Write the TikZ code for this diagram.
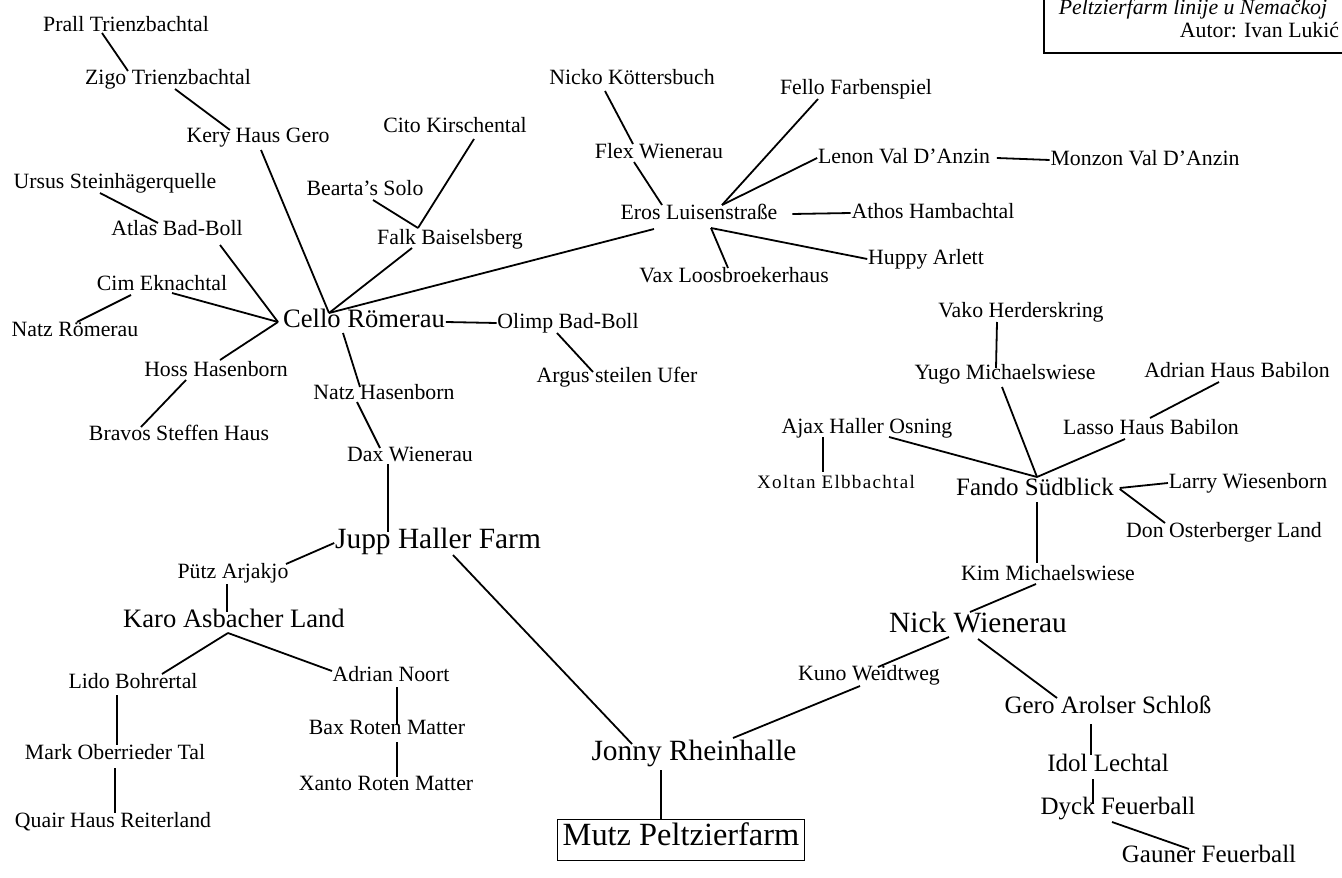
\documentclass[tikz,border=0pt]{standalone}
\usepackage{fontspec}
\setmainfont{Liberation Serif}
\newfontfamily\spacedfont[LetterSpace=7]{Liberation Serif}

\begin{document}
\begin{tikzpicture}[
					x = 0.5pt, y = -0.5pt,
					line width = 0.9pt,
					every node/.style = {inner sep = 0pt, text height = 1.5ex, text depth = .25ex, font = \fontsize{10.9}{12}\selectfont},
					mid/.style = {font = \fontsize{12.5}{14}\selectfont},
					big/.style = {font = \fontsize{13.3}{15}\selectfont},
					bigger/.style = {font = \fontsize{14.7}{17}\selectfont},
					root/.style = {font = \fontsize{16.2}{18}\selectfont, draw, line width = 0.6pt, inner xsep = 2.5pt, minimum height = 20.5pt},
					spaced/.style = {font = \spacedfont\fontsize{9.5}{11}\selectfont}]

					\useasboundingbox (0,0) rectangle (1342,877);
					\clip (0,0) rectangle (1342,877);

					\draw[line width = 0.6pt] (1044,-20) rectangle (1400,53);
					\node[anchor = base east, font = \fontsize{10.9}{12}\selectfont\itshape] (naslov) at (1328,15) {Peltzierfarm linije u Nemačkoj};
					\node[anchor = base east] (autor) at (1340,38) {Autor: Ivan Lukić};

					\node (prall) at (126,26) {Prall Trienzbachtal};
					\node (zigo) at (168,79) {Zigo Trienzbachtal};
					\node (kery) at (258,137) {Kery Haus Gero};
					\node (ursus) at (115,183) {Ursus Steinhägerquelle};
					\node (atlas) at (177,230) {Atlas Bad-Boll};
					\node (bearta) at (365,190) {Bearta's Solo};
					\node (cito) at (455,127) {Cito Kirschental};
					\node (falk) at (450,239) {Falk Baiselsberg};
					\node (cim) at (162,285) {Cim Eknachtal};
					\node (natzr) at (75,331) {Natz Römerau};
					\node[big] (cello) at (364,322) {Cello Römerau};
					\node (hoss) at (216,371) {Hoss Hasenborn};
					\node (bravos) at (179,435) {Bravos Steffen Haus};
					\node (natzh) at (384,394) {Natz Hasenborn};
					\node (dax) at (410,456) {Dax Wienerau};
					\node (olimp) at (568,323) {Olimp Bad-Boll};
					\node (argus) at (617,377) {Argus steilen Ufer};

					\node (nicko) at (632,79) {Nicko Köttersbuch};
					\node (flex) at (659,153) {Flex Wienerau};
					\node (eros) at (699,214) {Eros Luisenstraße};
					\node (fello) at (856,89) {Fello Farbenspiel};
					\node (lenon) at (904,158) {Lenon Val D'Anzin};
					\node (monzon) at (1145,160) {Monzon Val D'Anzin};
					\node (athos) at (933,213) {Athos Hambachtal};
					\node (huppy) at (926,259) {Huppy Arlett};
					\node (vax) at (734,277) {Vax Loosbroekerhaus};

					\node[bigger] (jupp) at (438,543) {Jupp Haller Farm};
					\node (putz) at (233,573) {Pütz Arjakjo};
					\node[big] (karo) at (234,622) {Karo Asbacher Land};
					\node (lido) at (133,683) {Lido Bohrertal};
					\node (mark) at (115,754) {Mark Oberrieder Tal};
					\node (quair) at (113,822) {Quair Haus Reiterland};
					\node (noort) at (391,676) {Adrian Noort};
					\node (bax) at (387,729) {Bax Roten Matter};
					\node (xanto) at (386,785) {Xanto Roten Matter};

					\node (vako) at (1021,312) {Vako Herderskring};
					\node (yugo) at (1005,374) {Yugo Michaelswiese};
					\node (adrianhb) at (1237,372) {Adrian Haus Babilon};
					\node (lasso) at (1151,429) {Lasso Haus Babilon};
					\node (ajax) at (867,428) {Ajax Haller Osning};
					\node[spaced] (xoltan) at (836,483) {Xoltan Elbbachtal};
					\node[mid] (fando) at (1035,490) {Fando Südblick};
					\node (larry) at (1248,483) {Larry Wiesenborn};
					\node (don) at (1224,532) {Don Osterberger Land};
					\node (kim) at (1048,575) {Kim Michaelswiese};
					\node[bigger] (nick) at (978,627) {Nick Wienerau};
					\node (kuno) at (869,675) {Kuno Weidtweg};
					\node[mid] (gero) at (1108,708) {Gero Arolser Schloß};
					\node[mid] (idol) at (1108,766) {Idol Lechtal};
					\node[mid] (dyck) at (1118,809) {Dyck Feuerball};
					\node[mid] (gauner) at (1209,857) {Gauner Feuerball};

					\node[bigger] (jonny) at (694,755) {Jonny Rheinhalle};
					\node[root] (mutz) at (681,840) {Mutz Peltzierfarm};

					\draw ([shift={(-24,7)}]prall.center) -- ([shift={(-40,-8)}]zigo.center);
					\draw ([shift={(7,10)}]zigo.center) -- ([shift={(-28,-7)}]kery.center);
					\draw ([shift={(3,13)}]kery.center) -- ([shift={(-35,-9)}]cello.center);
					\draw ([shift={(-15,10)}]ursus.center) -- ([shift={(-19,-7)}]atlas.center);
					\draw ([shift={(43,15)}]atlas.center) -- ([shift={(-86,0)}]cello.center);
					\draw ([shift={(8,10)}]bearta.center) -- ([shift={(-32,-11)}]falk.center);
					\draw ([shift={(19,12)}]cito.center) -- ([shift={(-32,-11)}]falk.center);
					\draw ([shift={(-38,9)}]falk.center) -- ([shift={(-35,-9)}]cello.center);
					\draw ([shift={(-45,15)}]eros.center) -- ([shift={(-35,-9)}]cello.center);
					\draw ([shift={(10,8)}]cim.center) -- ([shift={(-86,0)}]cello.center);
					\draw ([shift={(-31,10)}]cim.center) -- ([shift={(2,-9)}]natzr.center);
					\draw ([shift={(-86,0)}]cello.center) -- ([shift={(4,-11)}]hoss.center);
					\draw ([shift={(-30,9)}]hoss.center) -- ([shift={(-38,-8)}]bravos.center);
					\draw ([shift={(-21,11)}]cello.center) -- ([shift={(-24,-7)}]natzh.center);
					\draw ([shift={(-27,8)}]natzh.center) -- ([shift={(-30,-8)}]dax.center);
					\draw (cello.east) -- (olimp.west);
					\draw ([shift={(-11,10)}]olimp.center) -- ([shift={(-24,-5)}]argus.center);

					\draw ([shift={(-27,12)}]nicko.center) -- ([shift={(-26,-9)}]flex.center);
					\draw ([shift={(-25,9)}]flex.center) -- ([shift={(-37,-9)}]eros.center);
					\draw ([shift={(-38,10)}]fello.center) -- ([shift={(23,-9)}]eros.center);
					\draw (lenon.west) -- ([shift={(23,-9)}]eros.center);
					\draw ([shift={(14,0)}]eros.east) -- (athos.west);
					\draw ([shift={(12,14)}]eros.center) -- ([shift={(-6,-9)}]vax.center);
					\draw ([shift={(12,14)}]eros.center) -- (huppy.west);
					\draw ([shift={(6,0)}]lenon.east) -- (monzon.west);

					\draw ([shift={(-22,8)}]dax.center) -- ([shift={(-50,-11)}]jupp.center);
					\draw (jupp.west) -- ([shift={(53,-9)}]putz.center);
					\draw ([shift={(-6,11)}]putz.center) -- ([shift={(-7,-10)}]karo.center);
					\draw ([shift={(-6,11)}]karo.center) -- ([shift={(29,-9)}]lido.center);
					\draw ([shift={(-6,11)}]karo.center) -- ([shift={(-59,-5)}]noort.center);
					\draw ([shift={(-16,12)}]lido.center) -- ([shift={(2,-9)}]mark.center);
					\draw ([shift={(0,14)}]mark.center) -- ([shift={(2,-9)}]quair.center);
					\draw ([shift={(6,11)}]noort.center) -- ([shift={(10,-4)}]bax.center);
					\draw ([shift={(10,13)}]bax.center) -- ([shift={(11,-8)}]xanto.center);

					\draw ([shift={(-24,10)}]vako.center) -- ([shift={(-9,-6)}]yugo.center);
					\draw ([shift={(-3,13)}]yugo.center) -- ([shift={(2,-13)}]fando.center);
					\draw ([shift={(-18,10)}]adrianhb.center) -- ([shift={(-1,-11)}]lasso.center);
					\draw ([shift={(-26,10)}]lasso.center) -- ([shift={(2,-13)}]fando.center);
					\draw ([shift={(22,9)}]ajax.center) -- ([shift={(2,-13)}]fando.center);
					\draw ([shift={(-44,9)}]ajax.center) -- ([shift={(-13,-11)}]xoltan.center);
					\draw ([shift={(5,-2)}]fando.east) -- (larry.west);
					\draw ([shift={(5,-1)}]fando.east) -- ([shift={(-59,-9)}]don.center);
					\draw ([shift={(2,12)}]fando.center) -- ([shift={(-11,-12)}]kim.center);
					\draw ([shift={(-12,9)}]kim.center) -- ([shift={(-8,-15)}]nick.center);
					\draw ([shift={(-29,10)}]nick.center) -- ([shift={(9,-8)}]kuno.center);
					\draw ([shift={(-9,11)}]kuno.center) -- ([shift={(39,-17)}]jonny.center);
					\draw ([shift={(0,12)}]nick.center) -- ([shift={(-51,-10)}]gero.center);
					\draw ([shift={(-17,16)}]gero.center) -- ([shift={(-17,-11)}]idol.center);
					\draw ([shift={(-15,13)}]idol.center) -- ([shift={(-25,-5)}]dyck.center);
					\draw ([shift={(-6,13)}]dyck.center) -- ([shift={(-20,-8)}]gauner.center);

					\draw ([shift={(15,12)}]jupp.center) -- ([shift={(-62,-11)}]jonny.center);
					\draw ([shift={(-33,15)}]jonny.center) -- ([shift={(-20,0)}]mutz.north);

				\end{tikzpicture}
\end{document}
